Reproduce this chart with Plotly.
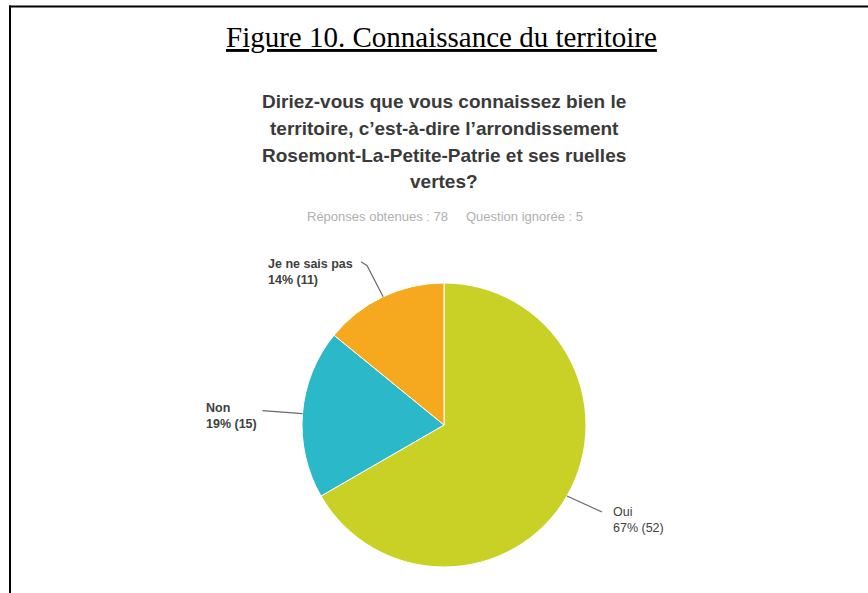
import math
import plotly.graph_objects as go

W, H = 868, 593

# Survey answers
labels = ["Oui", "Non", "Je ne sais pas"]
counts = [52, 15, 11]
colors = ["#c9d126", "#2bb9c9", "#f6a81f"]

figure_title = "Figure 10. Connaissance du territoire"
question_lines = [
    "Diriez-vous que vous connaissez bien le",
    "territoire, c\u2019est-à-dire l\u2019arrondissement",
    "Rosemont-La-Petite-Patrie et ses ruelles",
    "vertes?",
]
answered = 78
skipped = 5


def px(x):
    return x / W


def py(y):
    return 1 - y / H


# pie geometry in page pixels
cx, cy, R = 444, 425, 142

fig = go.Figure()
fig.add_trace(go.Pie(
    labels=labels,
    values=counts,
    sort=False,
    direction="clockwise",
    rotation=0,
    marker=dict(colors=colors, line=dict(color="#ffffff", width=1)),
    textinfo="none",
    hoverinfo="label+percent+value",
    showlegend=False,
    domain=dict(x=[px(cx - R), px(cx + R)], y=[py(cy + R), py(cy - R)]),
))

shapes = []
annotations = []

# page frame (top and left rules)
shapes.append(dict(type="line", xref="paper", yref="paper",
                   x0=px(9), x1=px(W + 2), y0=py(6.5), y1=py(6.5),
                   line=dict(color="#000000", width=2)))
shapes.append(dict(type="line", xref="paper", yref="paper",
                   x0=px(10), x1=px(10), y0=py(5.5), y1=py(H + 2),
                   line=dict(color="#000000", width=2)))

annotations.append(dict(
    text="<u>" + figure_title + "</u>", x=px(442), y=py(37),
    xref="paper", yref="paper", xanchor="center", yanchor="middle",
    showarrow=False, font=dict(family="Liberation Serif", size=29, color="#000000"),
))

for i, line in enumerate(question_lines):
    annotations.append(dict(
        text="<b>" + line + "</b>", x=px(444), y=py(102 + i * 26.5),
        xref="paper", yref="paper", xanchor="center", yanchor="middle",
        showarrow=False, font=dict(family="Liberation Sans", size=19, color="#3a3a3a"),
    ))

annotations.append(dict(
    text=f"Réponses obtenues : {answered}" + "&nbsp;" * 5 + f"Question ignorée : {skipped}",
    x=px(445), y=py(216), xref="paper", yref="paper",
    xanchor="center", yanchor="middle", showarrow=False,
    font=dict(family="Liberation Sans", size=13, color="#b0b0b0"),
))

# outside labels with leader lines from each slice's mid-angle
total = sum(counts)
pct = [round(100 * c / total) for c in counts]
# leader bend points relative to the slice edge, and label placement
leader = {
    "Oui": dict(pts=[(35, 16)], anchor="left", dx=9, dy=8, bold=False),
    "Non": dict(pts=[(-40, -3)], anchor="right", dx=-3, dy=5, bold=True),
    "Je ne sais pas": dict(pts=[(-16, -31), (-22, -35)], anchor="right", dx=-6, dy=10, bold=True),
}
acc = 0
for lab, c, p in zip(labels, counts, pct):
    mid = (acc + c / 2) / total * 2 * math.pi
    acc += c
    sx = cx + R * math.sin(mid)
    sy = cy - R * math.cos(mid)
    cfg = leader[lab]
    path_pts = [(sx, sy)] + [(sx + ox, sy + oy) for ox, oy in cfg["pts"]]
    d = "M " + " L ".join(f"{px(x):.5f},{py(y):.5f}" for x, y in path_pts)
    shapes.append(dict(type="path", xref="paper", yref="paper", path=d,
                       line=dict(color="#6a6a6a", width=1.2)))
    ex, ey = path_pts[-1]
    txt = f"{lab}<br>{p}% ({c})"
    if cfg["bold"]:
        txt = "<b>" + txt + "</b>"
    annotations.append(dict(
        text=txt, x=px(ex + cfg["dx"]), y=py(ey + cfg["dy"]),
        xref="paper", yref="paper", xanchor=cfg["anchor"], yanchor="middle",
        align="left", showarrow=False,
        font=dict(family="Liberation Sans", size=12.5, color="#404040"),
    ))

fig.update_layout(
    width=W, height=H,
    margin=dict(l=0, r=0, t=0, b=0),
    paper_bgcolor="#ffffff", plot_bgcolor="#ffffff",
    shapes=shapes, annotations=annotations,
)

fig.write_html("out.html")
